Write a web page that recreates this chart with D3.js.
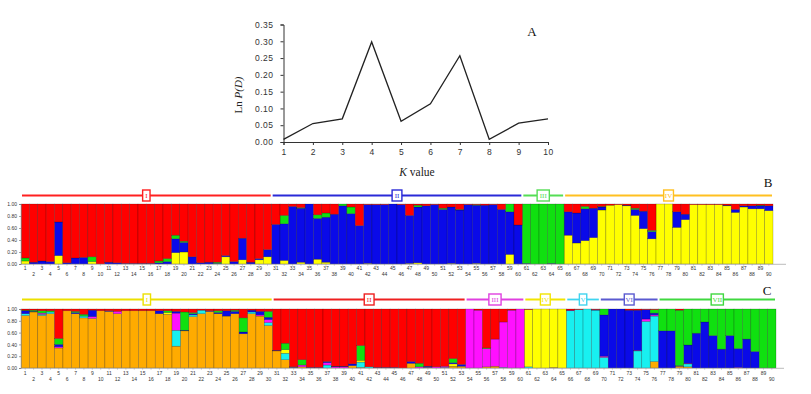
<!DOCTYPE html>
<html><head><meta charset="utf-8">
<script src="https://cdn.jsdelivr.net/npm/d3@7"></script>
<style>
html,body{margin:0;padding:0;background:#fff;}
svg{display:block;}
</style></head><body>
<svg id="chart" width="811" height="394"></svg>
<script>
// ---------- Panel A data ----------
const kValues = [1,2,3,4,5,6,7,8,9,10];
const lnPD = [0.008,0.055,0.069,0.298,0.062,0.114,0.257,0.008,0.056,0.069];
const yTicksA = [0,0.05,0.10,0.15,0.20,0.25,0.30,0.35];

// ---------- Individuals ----------
const individuals = d3.range(1,91);
const yTicksBC = [0,0.2,0.4,0.6,0.8,1.0];

// ---------- Panel B (K=4) ----------
const bYellow = [0.05,0,0,0,0.14,0,0,0,0.04,0, 0,0,0,0,0,0,0,0,0.19,0.20, 0,0,0,0,0.12,0,0.07,0,0.07,0.12,
  0,0.06,0,0.03,0,0.08,0.03,0,0,0, 0,0.01,0,0,0,0,0.01,0.02,0,0, 0,0.01,0,0,0.01,0,0,0,0.16,0,
  0,0,0,0,0,0.48,0.35,0.39,0.44,0.90, 0.98,0.99,0.97,0.81,0.59,0.42,1,1,0.61,0.74, 0.99,0.99,0.99,0.99,0.97,0.86,0.95,0.92,0.92,0.89];
const bBlue = [0,0.03,0.05,0.04,0.56,0.02,0.10,0.11,0,0, 0.03,0.02,0.01,0.01,0.01,0.01,0.02,0.04,0.23,0.16, 0.12,0.02,0.03,0.01,0.02,0.04,0.36,0.03,0.02,0.12,
  0.66,0.61,0.96,0.90,1,0.68,0.75,0.83,0.97,0.84, 0.64,0.98,0.99,0.99,1,0.99,0.80,0.93,0.97,0.99, 0.91,0.94,0.90,0.99,0.97,0.98,0.99,0.91,0.71,0.65,
  0.01,0,0,0.01,0,0.39,0.50,0.53,0.49,0.05, 0,0,0.01,0.10,0.29,0.12,0,0,0.26,0.09, 0,0,0,0,0.01,0.05,0.02,0.05,0.05,0.08];
const bGreen = [0.05,0,0,0,0,0,0,0,0.08,0, 0,0,0,0,0,0,0.03,0.05,0.06,0.02, 0,0,0,0.02,0,0,0,0,0,0,
  0,0.14,0,0.01,0,0.06,0.07,0,0.03,0.11, 0,0,0,0,0,0,0,0.03,0,0, 0.02,0,0.01,0,0.01,0,0,0,0.13,0,
  0.99,1,1,0.99,1,0,0,0.04,0,0.01, 0,0,0,0.02,0,0.02,0,0,0,0, 0,0,0,0,0,0,0,0,0.01,0];
const bRed = [0.90,0.97,0.95,0.96,0.30,0.98,0.90,0.89,0.88,1, 0.97,0.98,0.99,0.99,0.99,0.99,0.95,0.91,0.52,0.62, 0.88,0.98,0.97,0.97,0.86,0.96,0.57,0.97,0.91,0.76,
  0.34,0.19,0.04,0.06,0,0.18,0.15,0.17,0,0.05, 0.36,0.01,0.01,0.01,0,0.01,0.19,0.02,0.03,0.01, 0.07,0.05,0.09,0.01,0.01,0.02,0.01,0.09,0,0.35,
  0,0,0,0,0,0.13,0.15,0.04,0.07,0.04, 0.02,0.01,0.02,0.07,0.12,0.44,0,0,0.13,0.17, 0.01,0.01,0.01,0.01,0.02,0.09,0.03,0.03,0.02,0.03];
const bKeys = ["yellow","blue","green","red"];
const bColors = ["#ffff00","#0a0ae8","#10e010","#ff0000"];
const bGroups = ["I","II","III","IV"];
const bGroupSizes = [30,30,5,25];
const bGroupColors = ["#ff2020","#2a2ad8","#55dd55","#ffc020"];

// ---------- Panel C (K=7) ----------
const cOrange = [0.89,0.95,0.89,0.92,0.34,0.97,0.92,0.85,0.84,0.97, 0.96,0.92,0.97,0.97,0.97,0.97,0.92,0.91,0.37,0.63, 0.87,0.92,0.96,0.92,0.88,0.92,0.58,0.92,0.88,0.72,
  0.29,0.14,0.01,0.02,0,0,0,0,0,0.04, 0.01,0,0,0,0,0,0.08,0,0.01,0, 0,0.03,0.03,0,0,0.02,0.03,0,0,0,
  0,0,0,0.01,0,0,0,0,0,0, 0,0,0,0,0,0.11,0,0,0.03,0.02, 0,0,0,0,0,0,0,0,0,0];
const cCyan = [0.03,0,0.02,0.03,0,0,0,0.03,0,0, 0,0,0,0,0,0,0,0,0.27,0, 0.03,0.06,0,0,0,0,0,0.03,0,0.05,
  0,0.11,0,0,0,0,0.05,0,0,0, 0.09,0.02,0,0,0,0,0,0,0,0, 0.01,0,0,0,0,0,0,0.01,0,0,
  0.02,0,0,0,0,0.97,0.99,1,0.98,0.18, 0,0,0,0.29,0.79,0.77,0,0,0,0.05, 0,0,0,0,0,0,0,0,0,0];
const cYellow = [0,0,0,0,0,0,0,0,0,0, 0,0,0,0,0,0,0,0.03,0,0, 0,0,0,0,0,0,0,0,0,0,
  0,0.06,0,0,0,0,0,0,0,0, 0.03,0,0,0,0,0,0,0,0,0, 0,0.04,0,0,0,0,0,0,0,0,
  0.97,1,1,0.99,1,0,0,0,0,0, 0,0,0,0,0,0,0,0,0,0, 0,0,0,0,0,0,0,0,0,0];
const cMagenta = [0,0,0.02,0,0.02,0,0,0,0.03,0, 0,0.04,0,0,0,0,0,0,0.29,0, 0,0,0,0,0,0,0,0,0.02,0.05,
  0,0,0,0.03,0,0,0.04,0.02,0.02,0, 0,0,0,0,0,0,0,0.02,0,0.02, 0.02,0,0,1,0.98,0.31,0.46,0.77,0.98,1,
  0,0,0,0,0,0.01,0,0,0,0.02, 0,0,0,0.01,0.04,0.02,0,0,0,0.01, 0,0,0,0,0,0.01,0,0,0,0];
const cBlue = [0.05,0.01,0,0,0.04,0,0.02,0,0.11,0, 0.01,0,0,0,0,0,0.05,0,0.03,0.01, 0.02,0,0.01,0.02,0.09,0.04,0.03,0.03,0.06,0.04,
  0.01,0,0.01,0,0.01,0.01,0.02,0.01,0.01,0.03, 0,0,0.01,0.01,0.01,0,0.03,0,0.02,0, 0,0.02,0.03,0,0,0,0,0,0,0,
  0,0,0,0,0,0,0,0,0.01,0.70, 1,1,0.98,0.68,0.16,0.03,0.63,0.63,0.01,0.31, 0.59,0.78,0.55,0.32,0.55,0.32,0.49,0.28,0,0];
const cGreen = [0.01,0.02,0.04,0.02,0.10,0,0.02,0.03,0,0, 0,0,0,0,0,0,0,0.03,0,0.31, 0.02,0,0,0.03,0,0.02,0.24,0,0,0.10,
  0,0.11,0,0.09,0,0,0,0,0,0, 0.25,0,0,0,0,0,0,0.06,0,0, 0,0.07,0,0,0,0.01,0,0,0,0,
  0,0,0,0,0,0,0,0,0,0.10, 0,0,0,0,0,0.06,0.37,0.37,0.94,0.61, 0.41,0.22,0.45,0.68,0.45,0.67,0.51,0.72,1,1];
const cRed = [0.02,0.02,0.03,0.03,0.50,0.03,0.04,0.09,0.02,0.03, 0.03,0.04,0.03,0.03,0.03,0.03,0.03,0.03,0.04,0.05, 0.06,0.02,0.03,0.03,0.03,0.02,0.15,0.02,0.04,0.04,
  0.70,0.58,0.98,0.86,0.99,0.99,0.89,0.97,0.97,0.93, 0.62,0.98,0.99,0.99,0.99,1,0.89,0.92,0.97,0.98, 0.97,0.84,0.94,0,0.02,0.66,0.51,0.22,0.02,0,
  0.01,0,0,0,0,0.02,0.01,0,0.01,0, 0,0,0.02,0.02,0.01,0.01,0,0,0.02,0, 0,0,0,0,0,0,0,0,0,0];
const cKeys = ["orange","cyan","yellow","magenta","blue","green","red"];
const cColors = ["#ffab00","#18f0f0","#ffff00","#ff10ff","#0a0ae8","#10e010","#ff0000"];
const cGroups = ["I","II","III","IV","V","VI","VII"];
const cGroupSizes = [30,23,7,5,4,7,14];
const cGroupColors = ["#ece000","#ee2020","#e040e0","#f2e400","#40d4f0","#5a5ad0","#40d840"];

const svg = d3.select("#chart");
svg.append("rect").attr("width",811).attr("height",394).attr("fill","#fff");

// ---------- Panel A ----------
const gA = svg.append("g");
const xA = d3.scaleLinear().domain([1,10]).range([283.5,548]);
const yA = d3.scaleLinear().domain([0,0.35]).range([142,24.5]);
const axA = gA.append("g").attr("transform","translate(0,142)")
  .call(d3.axisBottom(xA).tickValues(kValues).tickSize(3).tickPadding(4).tickFormat(d3.format("d")));
const ayA = gA.append("g").attr("transform","translate(283.5,0)")
  .call(d3.axisLeft(yA).tickValues(yTicksA).tickSize(3).tickPadding(7).tickFormat(d3.format(".2f")));
[axA, ayA].forEach(a=>{
  a.selectAll("path,line").attr("stroke","#333").attr("stroke-width",1);
  a.selectAll("text").attr("font-family","Liberation Sans, Arial, sans-serif").attr("font-size",8.5).attr("letter-spacing",0.5).attr("fill","#333");
});
gA.append("path").datum(kValues.map((k,i)=>[k,lnPD[i]]))
  .attr("fill","none").attr("stroke","#222").attr("stroke-width",1.3)
  .attr("d", d3.line().x(d=>xA(d[0])).y(d=>yA(d[1])));
gA.append("text").attr("x",417).attr("y",176).attr("text-anchor","middle")
  .attr("font-family","Liberation Serif, Times New Roman, serif").attr("font-size",11.5).attr("fill","#222")
  .call(t=>{t.append("tspan").attr("font-style","italic").text("K"); t.append("tspan").text(" value");});
gA.append("text").attr("transform","translate(242,95) rotate(-90)").attr("text-anchor","middle")
  .attr("font-family","Liberation Serif, Times New Roman, serif").attr("font-size",11).attr("fill","#222")
  .call(t=>{t.append("tspan").text("Ln "); t.append("tspan").attr("font-style","italic").text("P(D)");});
gA.append("text").attr("x",532).attr("y",36).attr("text-anchor","middle")
  .attr("font-family","Liberation Serif, Times New Roman, serif").attr("font-size",13).attr("fill","#111").text("A");

// ---------- Structure plots ----------
function structurePlot(cfg){
  const g = svg.append("g");
  const x = d3.scaleBand().domain(individuals).range([cfg.x0,cfg.x1]).padding(0);
  const y = d3.scaleLinear().domain([0,1]).range([cfg.yb,cfg.yt]);
  const rows = individuals.map((id,i)=>{const o={id}; cfg.keys.forEach((k,j)=>o[k]=cfg.series[j][i]); return o;});
  const stacked = d3.stack().keys(cfg.keys)(rows);
  g.selectAll("g.layer").data(stacked).join("g").attr("class","layer").attr("fill",(d,i)=>cfg.colors[i])
    .selectAll("rect").data(d=>d.filter(e=>e[1]-e[0]>0)).join("rect")
    .attr("x",d=>x(d.data.id)).attr("width",x.bandwidth())
    .attr("y",d=>y(Math.min(1,d[1]))).attr("height",d=>Math.max(0,y(d[0])-y(Math.min(1,d[1]))))
    .attr("stroke","#000").attr("stroke-opacity",0.4).attr("stroke-width",0.5);
  // y axis
  const ay = g.append("g").attr("transform",`translate(${cfg.x0},0)`)
    .call(d3.axisLeft(y).tickValues(yTicksBC).tickSize(2).tickPadding(2).tickFormat(d3.format(".2f")));
  ay.select(".domain").attr("stroke","#888").attr("stroke-width",0.6);
  ay.selectAll("line").attr("stroke","#666").attr("stroke-width",0.6);
  ay.selectAll("text").attr("font-family","Liberation Sans, Arial, sans-serif").attr("font-size",5).attr("fill","#333");
  // x axis with staggered labels
  const ax = g.append("g").attr("transform",`translate(0,${cfg.yb})`)
    .call(d3.axisBottom(x).tickSize(1.5).tickPadding(1));
  ax.select(".domain").remove();
  ax.selectAll("line").attr("stroke","#777").attr("stroke-width",0.5);
  ax.selectAll("text").attr("font-family","Liberation Sans, Arial, sans-serif").attr("font-size",5).attr("fill","#333")
    .attr("y",d=> d%2===1 ? cfg.lab1 : cfg.lab2);
  g.append("line").attr("x1",cfg.x0).attr("x2",cfg.axisEnd).attr("y1",cfg.yb+0.3).attr("y2",cfg.yb+0.3)
    .attr("stroke","#aaa").attr("stroke-width",0.8);
  // group headers
  let start = 0;
  cfg.groups.forEach((name,gi)=>{
    const size = cfg.sizes[gi];
    const first = individuals[start], last = individuals[start+size-1];
    const xs = x(first)+1, xe = x(last)+x.bandwidth()-1;
    const col = cfg.gcolors[gi];
    g.append("line").attr("x1",xs).attr("x2",xe).attr("y1",cfg.hy).attr("y2",cfg.hy)
      .attr("stroke",col).attr("stroke-width",1.8);
    const cx = (x(first)+x(last)+x.bandwidth())/2;
    const w = 5 + 2.4*name.length;
    g.append("rect").attr("x",cx-w/2).attr("y",cfg.hy-5.5).attr("width",w).attr("height",11)
      .attr("fill","#fff").attr("stroke",col).attr("stroke-width",1.4);
    g.append("text").attr("x",cx).attr("y",cfg.hy+2.4).attr("text-anchor","middle")
      .attr("font-family","Liberation Serif, Times New Roman, serif").attr("font-size",7).attr("fill",col).text(name);
    start += size;
  });
  g.append("text").attr("x",cfg.labX).attr("y",cfg.labY).attr("text-anchor","middle")
    .attr("font-family","Liberation Serif, Times New Roman, serif").attr("font-size",13).attr("fill","#111").text(cfg.label);
}

structurePlot({x0:21,x1:773,yt:204,yb:264,axisEnd:786,lab1:2.5,lab2:8.5,hy:195.5,
  keys:bKeys,series:[bYellow,bBlue,bGreen,bRed],colors:bColors,
  groups:bGroups,sizes:bGroupSizes,gcolors:bGroupColors,label:"B",labX:768,labY:187});
structurePlot({x0:21,x1:776,yt:309,yb:368,axisEnd:784,lab1:3.5,lab2:9.5,hy:299.5,
  keys:cKeys,series:[cOrange,cCyan,cYellow,cMagenta,cBlue,cGreen,cRed],colors:cColors,
  groups:cGroups,sizes:cGroupSizes,gcolors:cGroupColors,label:"C",labX:767,labY:295});
</script>
</body></html>
